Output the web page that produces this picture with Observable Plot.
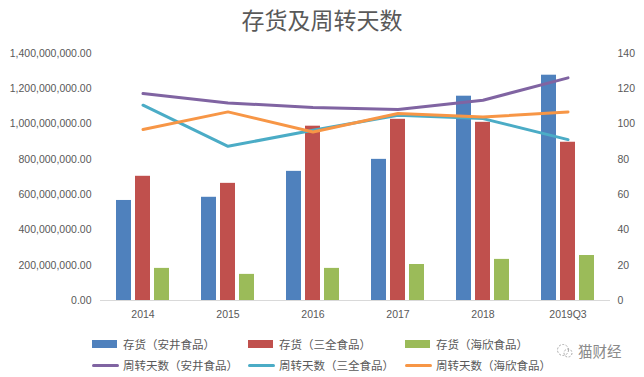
<!DOCTYPE html>
<html>
<head>
<meta charset="utf-8">
<script src="https://cdn.jsdelivr.net/npm/d3@7"></script>
<script src="https://cdn.jsdelivr.net/npm/@observablehq/plot@0.6"></script>
<style>
  body { margin: 0; background: #fff; font-family: "Liberation Sans", Arial, sans-serif; }
  #wrap { position: relative; width: 644px; height: 377px; overflow: hidden; }
  #title { position: absolute; left: 0; top: 3px; width: 644px; text-align: center; font-family: "Noto Sans CJK SC", sans-serif; font-size: 23px; color: #595959; line-height: 32px; }
  #chart { position: absolute; left: 0; top: 40px; }
  .leg { position: absolute; font-family: "Noto Sans CJK SC", sans-serif; font-size: 11.5px; color: #595959; white-space: nowrap; line-height: 14px; }
  .sw { position: absolute; }
  #wm { position: absolute; left: 556px; top: 340px; font-family: "Noto Sans CJK SC", sans-serif; font-size: 14.5px; color: #8a8a8a; white-space: nowrap; }
</style>
</head>
<body>
<div id="wrap">
  <div id="title">存货及周转天数</div>
  <div id="chart"></div>
  <div id="legend"></div>
  <div id="wm"><svg width="18" height="16" style="vertical-align:-2px;margin-right:4px"><circle cx="7" cy="7" r="5.5" fill="none" stroke="#aaa" stroke-width="1" stroke-dasharray="2 1.5"/><circle cx="12" cy="10" r="4" fill="none" stroke="#aaa" stroke-width="1" stroke-dasharray="2 1.5"/></svg>猫财经</div>
</div>
<script>
const categories = ["2014", "2015", "2016", "2017", "2018", "2019Q3"];
const inventoryAnjing = [567e6, 585e6, 732e6, 800e6, 1158e6, 1277e6];
const inventorySanquan = [704e6, 664e6, 988e6, 1027e6, 1010e6, 897e6];
const inventoryHaixin = [182e6, 148e6, 182e6, 204e6, 233e6, 255e6];
const daysAnjing = [117.3, 112.0, 109.4, 108.2, 113.5, 126.2];
const daysSanquan = [110.7, 87.4, 96.5, 105.0, 103.1, 91.2];
const daysHaixin = [96.9, 106.9, 95.5, 106.0, 104.0, 106.9];
const leftTicks = [0, 2e8, 4e8, 6e8, 8e8, 10e8, 12e8, 14e8];
const barNames = ["存货（安井食品）", "存货（三全食品）", "存货（海欣食品）"];
const lineNames = ["周转天数（安井食品）", "周转天数（三全食品）", "周转天数（海欣食品）"];
const barColors = ["#4F81BD", "#C0504D", "#9BBB59"];
const lineColors = ["#8064A2", "#4BACC6", "#F79646"];

// Days are drawn against the secondary axis: 140 days = top of the 1.4e9 axis
const DAY_FACTOR = 1e7;

const barSeries = [inventoryAnjing, inventorySanquan, inventoryHaixin];
const lineSeries = [daysAnjing, daysSanquan, daysHaixin];
const insets = [[16, 54], [35, 35], [54, 16]];

const marks = [];
barSeries.forEach((vals, s) => {
  const data = categories.map((c, i) => ({cat: c, v: vals[i]}));
  marks.push(Plot.barY(data, {x: "cat", y: "v", fill: barColors[s], insetLeft: insets[s][0], insetRight: insets[s][1]}));
});
marks.push(Plot.ruleY([0], {stroke: "#d9d9d9", strokeWidth: 1}));
lineSeries.forEach((vals, s) => {
  const data = categories.map((c, i) => ({cat: c, v: vals[i] * DAY_FACTOR}));
  marks.push(Plot.lineY(data, {x: "cat", y: "v", stroke: lineColors[s], strokeWidth: 3, curve: "linear"}));
});
marks.push(Plot.axisY({anchor: "left", ticks: leftTicks, tickSize: 0, tickPadding: 9, tickFormat: d3.format(",.2f"), label: null, fill: "#595959"}));
marks.push(Plot.axisY({anchor: "right", ticks: leftTicks, tickSize: 0, tickPadding: 7, tickFormat: d => String(Math.round(d / DAY_FACTOR)), label: null, fill: "#595959"}));
marks.push(Plot.axisX({tickSize: 0, tickPadding: 10, label: null, fill: "#595959"}));

const chart = Plot.plot({
  width: 644,
  height: 290,
  marginTop: 13,
  marginBottom: 30,
  marginLeft: 100,
  marginRight: 34,
  style: {fontFamily: "'Liberation Sans', Arial, sans-serif", fontSize: "10.5px", color: "#595959", background: "#fff"},
  x: {domain: categories, type: "band", padding: 0, label: null},
  y: {domain: [0, 1.4e9], label: null},
  marks
});
document.getElementById("chart").appendChild(chart);

// Legend
const legend = document.getElementById("legend");
const colX = [92, 248, 405];
const textX = [123, 279, 436];
barNames.forEach((name, i) => {
  const sw = document.createElement("div");
  sw.className = "sw";
  Object.assign(sw.style, {left: colX[i] + "px", top: "340px", width: "25px", height: "8px", background: barColors[i]});
  legend.appendChild(sw);
  const t = document.createElement("div");
  t.className = "leg";
  t.textContent = name;
  Object.assign(t.style, {left: textX[i] + "px", top: "337px"});
  legend.appendChild(t);
});
lineNames.forEach((name, i) => {
  const sw = document.createElement("div");
  sw.className = "sw";
  Object.assign(sw.style, {left: colX[i] + "px", top: "364px", width: "27px", height: "3px", background: lineColors[i], borderRadius: "2px"});
  legend.appendChild(sw);
  const t = document.createElement("div");
  t.className = "leg";
  t.textContent = name;
  Object.assign(t.style, {left: textX[i] + "px", top: "358px"});
  legend.appendChild(t);
});
</script>
</body>
</html>
